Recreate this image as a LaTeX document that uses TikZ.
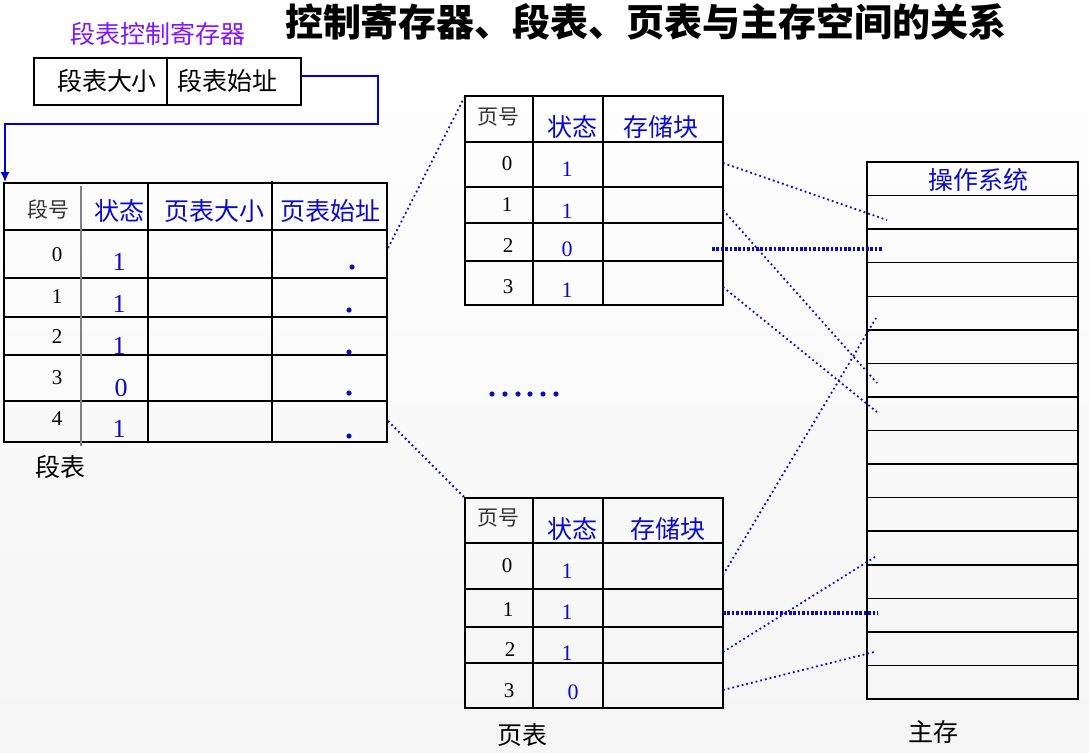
\documentclass[tikz,border=0pt]{standalone}
\usepackage{fontspec}
\setmainfont{Liberation Serif}
\newfontfamily\cjk{Noto Sans CJK SC}
\definecolor{regblue}{RGB}{0,0,220}
\definecolor{txtblue}{RGB}{10,10,205}
\definecolor{regviolet}{RGB}{130,20,255}
\tikzstyle{heading}=[font=\cjk\bfseries\fontsize{19}{19}\selectfont,inner sep=0pt]
\tikzstyle{caption}=[font=\cjk\fontsize{12.5}{13}\selectfont,inner sep=0pt]
\tikzstyle{colhead}=[caption,text=txtblue]
\tikzstyle{numhead}=[font=\cjk\fontsize{10.5}{11}\selectfont,text=black!80,inner sep=0pt]
\tikzstyle{number}=[font=\fontsize{10.5}{11}\selectfont,inner sep=0pt]
\tikzstyle{bit}=[font=\fontsize{11}{11}\selectfont,text=txtblue,inner sep=0pt]
\tikzstyle{bigbit}=[font=\fontsize{13}{13}\selectfont,text=txtblue,inner sep=0pt]
\tikzstyle{cell}=[draw=black,line width=0.75pt]
\tikzstyle{link}=[draw=txtblue,line width=0.9pt,dash pattern=on 0.9pt off 1.5pt]
\tikzstyle{blink}=[draw=txtblue,line width=1.7pt,dash pattern=on 1.3pt off 0.9pt]
\tikzstyle{pointer}=[circle,fill=txtblue,inner sep=0pt,minimum size=2.6pt]
\usetikzlibrary{arrows,arrows.meta,positioning}

\begin{document}
\begin{tikzpicture}[x=0.5pt,y=-0.5pt,>=latex]
            \useasboundingbox (0,0) rectangle (1089,752);
            \shade[top color=white,bottom color=black!4] (0,0) rectangle (1089,752);

            \node[heading] (title) at (646,22) {控制寄存器、段表、页表与主存空间的关系};

            % REGISTER PART

            \node[caption,text=regviolet] (regname) at (158,34) {段表控制寄存器};
            \draw[cell] (34,58) rectangle (301,105);
            \draw[cell] (167,58) -- (167,105);
            \node[caption] (regsize) at (107,81) {段表大小};
            \node[caption] (regbase) at (227,81) {段表始址};
            \coordinate (regout) at (301,76);
            \coordinate (segin) at (5,182);

            \draw[regblue,line width=0.8pt,-{Latex[length=5pt,width=4.5pt]}] (regout) -| (378,124) -| (segin);

            % SEGMENT TABLE PART

            \draw[cell] (4,183) rectangle (387,442);
            \draw[cell] (4,230) -- (387,230);
            \draw[cell] (4,278) -- (387,278);
            \draw[cell] (4,317) -- (387,317);
            \draw[cell] (4,355) -- (387,355);
            \draw[cell] (4,401) -- (387,401);
            \draw[cell] (148,183) -- (148,442);
            \draw[cell] (272,181) -- (272,442);
            \draw[black!50,line width=1pt] (81,186) -- (81,446);

            \node[numhead] (segno)     at (48,209)  {段号};
            \node[colhead] (segstate)  at (119,211) {状态};
            \node[colhead] (segptsize) at (214,211) {页表大小};
            \node[colhead] (segptbase) at (330,211) {页表始址};

            \node[number] (s0) at (57,255) {0};
            \node[number] (s1) at (57,297) {1};
            \node[number] (s2) at (57,337) {2};
            \node[number] (s3) at (57,378) {3};
            \node[number] (s4) at (57,419) {4};

            \node[bigbit] (sb0) at (119,262) {1};
            \node[bigbit] (sb1) at (119,304) {1};
            \node[bigbit] (sb2) at (119,346) {1};
            \node[bigbit] (sb3) at (121,388) {0};
            \node[bigbit] (sb4) at (119,429) {1};

            \node[pointer] (sp0) at (352,267) {};
            \node[pointer] (sp1) at (349,310) {};
            \node[pointer] (sp2) at (349,352) {};
            \node[pointer] (sp3) at (349,393) {};
            \node[pointer] (sp4) at (349,436) {};

            \node[caption] (segname) at (60,467) {段表};

            \coordinate (seg0out) at (388,248);
            \coordinate (seg4out) at (388,421);

            % PAGE TABLE 1 PART

            \draw[cell] (465,96) rectangle (723,305);
            \draw[cell] (465,142) -- (723,142);
            \draw[cell] (465,187) -- (723,187);
            \draw[cell] (465,223) -- (723,223);
            \draw[cell] (465,261) -- (723,261);
            \draw[cell] (533,96) -- (533,305);
            \draw[cell] (603,96) -- (603,305);

            \node[numhead] (ano)    at (498,117) {页号};
            \node[colhead] (astate) at (572,127) {状态};
            \node[colhead] (ablock) at (661,127) {存储块};

            \node[number] (a0) at (507,164) {0};
            \node[number] (a1) at (507,205) {1};
            \node[number] (a2) at (508,246) {2};
            \node[number] (a3) at (508,287) {3};

            \node[bit] (ab0) at (567,169) {1};
            \node[bit] (ab1) at (567,211) {1};
            \node[bit] (ab2) at (567,249) {0};
            \node[bit] (ab3) at (567,290) {1};

            \coordinate (ain) at (464,98);
            \coordinate (a0out) at (723,163);
            \coordinate (a1out) at (723,210);
            \coordinate (a2out) at (712,249);
            \coordinate (a3out) at (723,287);

            \node[pointer] (more1) at (492,394) {};
            \node[pointer] (more2) at (505,394) {};
            \node[pointer] (more3) at (518,394) {};
            \node[pointer] (more4) at (530,394) {};
            \node[pointer] (more5) at (543,394) {};
            \node[pointer] (more6) at (556,394) {};

            % PAGE TABLE 2 PART

            \draw[cell] (465,498) rectangle (723,708);
            \draw[cell] (465,543) -- (723,543);
            \draw[cell] (465,589) -- (723,589);
            \draw[cell] (465,627) -- (723,627);
            \draw[cell] (465,663) -- (723,663);
            \draw[cell] (533,498) -- (533,708);
            \draw[cell] (603,498) -- (603,708);

            \node[numhead] (bno)    at (498,518) {页号};
            \node[colhead] (bstate) at (572,529) {状态};
            \node[colhead] (bblock) at (668,529) {存储块};

            \node[number] (b0) at (507,566) {0};
            \node[number] (b1) at (508,610) {1};
            \node[number] (b2) at (510,650) {2};
            \node[number] (b3) at (509,691) {3};

            \node[bit] (bb0) at (567,571) {1};
            \node[bit] (bb1) at (567,612) {1};
            \node[bit] (bb2) at (567,653) {1};
            \node[bit] (bb3) at (573,692) {0};

            \node[caption] (ptname) at (522,735) {页表};

            \coordinate (bin) at (464,497);
            \coordinate (b0out) at (723,575);
            \coordinate (b1out) at (723,613);
            \coordinate (b2out) at (723,652);
            \coordinate (b3out) at (723,690);

            % MAIN MEMORY PART

            \draw[cell] (867,162) rectangle (1078,699);
            \draw[cell] (867,195.6) -- (1078,195.6);
            \draw[cell] (867,229.1) -- (1078,229.1);
            \draw[cell] (867,262.7) -- (1078,262.7);
            \draw[cell] (867,296.3) -- (1078,296.3);
            \draw[cell] (867,329.8) -- (1078,329.8);
            \draw[cell] (867,363.4) -- (1078,363.4);
            \draw[cell] (867,396.9) -- (1078,396.9);
            \draw[cell] (867,430.5) -- (1078,430.5);
            \draw[cell] (867,464.1) -- (1078,464.1);
            \draw[cell] (867,497.6) -- (1078,497.6);
            \draw[cell] (867,531.2) -- (1078,531.2);
            \draw[cell] (867,564.8) -- (1078,564.8);
            \draw[cell] (867,598.3) -- (1078,598.3);
            \draw[cell] (867,631.9) -- (1078,631.9);
            \draw[cell] (867,665.4) -- (1078,665.4);

            \node[colhead] (os) at (978,180) {操作系统};
            \node[caption] (memname) at (933,732) {主存};

            \coordinate (m1) at (887,220);
            \coordinate (m2) at (877,383);
            \coordinate (m3) at (883,249);
            \coordinate (m4) at (877,412);
            \coordinate (m5) at (876,318);
            \coordinate (m6) at (878,613);
            \coordinate (m7) at (875,557);
            \coordinate (m8) at (874,652);

            % Connections

            \draw[link] (seg0out) -- (ain);
            \draw[link] (seg4out) -- (bin);

            \draw[link]  (a0out) -- (m1);
            \draw[link]  (a1out) -- (m2);
            \draw[blink] (a2out) -- (m3);
            \draw[link]  (a3out) -- (m4);

            \draw[link]  (b0out) -- (m5);
            \draw[blink] (b1out) -- (m6);
            \draw[link]  (b2out) -- (m7);
            \draw[link]  (b3out) -- (m8);

\end{tikzpicture}
\end{document}
